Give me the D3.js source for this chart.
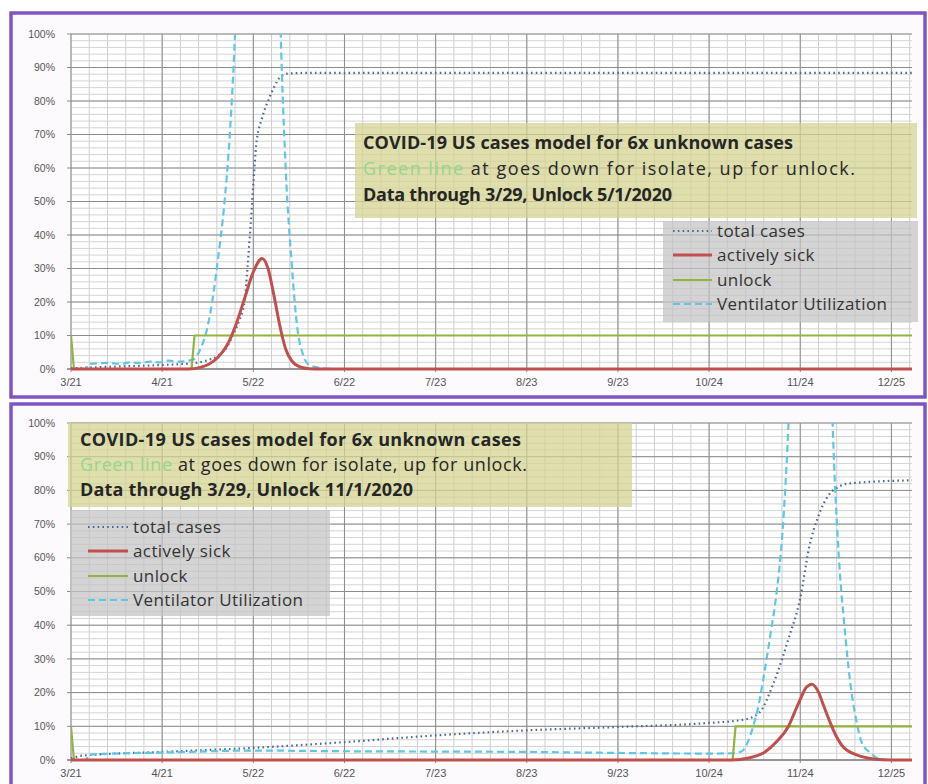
<html>
<head>
<meta charset="utf-8">
<title>COVID-19 US cases model</title>
<style>
    body { margin: 0; background: #fff; }
    svg { display: block; }
    .tick-label { font-family: "Liberation Sans", Arial, sans-serif; font-size: 10.5px; fill: #555; }
    .note { font-family: "Open Sans", sans-serif; fill: #262626; font-size: 18px; }
    .legend-text { font-family: "Open Sans", sans-serif; font-size: 17px; letter-spacing: 0.4px; fill: #333; }
</style>
</head>
<body>
<script src="https://cdn.jsdelivr.net/npm/d3@7"></script>
<script>
// axis labels
var xTickLabels = ["3/21", "4/21", "5/22", "6/22", "7/23", "8/23", "9/23", "10/24", "11/24", "12/25"];
var yTicks = [0, 10, 20, 30, 40, 50, 60, 70, 80, 90, 100];
var seriesNames = ["total cases", "actively sick", "unlock", "Ventilator Utilization"];

// --- unlock 5/1/2020 (top chart), values in % ---
var totalCasesMay = [["2020-03-21", 0.2], ["2020-04-01", 0.6], ["2020-04-21", 1.2], ["2020-05-02", 1.8],
    ["2020-05-06", 2.5], ["2020-05-10", 4], ["2020-05-13", 6.5], ["2020-05-15", 10], ["2020-05-17", 14],
    ["2020-05-19", 20], ["2020-05-20", 30], ["2020-05-21", 42], ["2020-05-22", 55], ["2020-05-23", 67],
    ["2020-05-25", 75], ["2020-05-27", 80], ["2020-05-29", 84], ["2020-05-31", 87], ["2020-06-03", 88.2],
    ["2020-06-10", 88.4], ["2021-01-01", 88.4]];
var activelySickMay = [["2020-03-21", 0], ["2020-04-30", 0], ["2020-05-04", 0.5], ["2020-05-07", 1.5],
    ["2020-05-10", 3.5], ["2020-05-13", 7], ["2020-05-16", 13], ["2020-05-19", 21], ["2020-05-22", 29],
    ["2020-05-25", 33], ["2020-05-27", 30], ["2020-05-29", 22], ["2020-05-31", 13], ["2020-06-02", 6],
    ["2020-06-04", 2.5], ["2020-06-07", 0.6], ["2020-06-10", 0.1], ["2020-06-14", 0], ["2021-01-01", 0]];
var unlockMay = [["2020-03-21", 10], ["2020-03-22", 0], ["2020-05-01", 0], ["2020-05-02", 10], ["2021-01-01", 10]];
var ventilatorMay = [["2020-03-21", 0], ["2020-03-26", 0], ["2020-03-27", 1.5], ["2020-04-03", 1.8],
    ["2020-04-07", 1.5], ["2020-04-10", 2], ["2020-04-13", 1.8], ["2020-04-17", 2.2], ["2020-04-20", 2],
    ["2020-04-23", 2.5], ["2020-04-27", 2.2], ["2020-04-30", 2.5], ["2020-05-02", 3], ["2020-05-04", 6],
    ["2020-05-06", 11], ["2020-05-08", 20], ["2020-05-10", 33], ["2020-05-12", 48], ["2020-05-14", 70],
    ["2020-05-16", 105], ["2020-05-20", 250], ["2020-05-24", 400], ["2020-05-28", 250], ["2020-05-31", 110],
    ["2020-06-02", 60], ["2020-06-04", 32], ["2020-06-06", 12], ["2020-06-08", 4], ["2020-06-10", 1.2],
    ["2020-06-14", 0.3], ["2020-06-18", 0], ["2021-01-01", 0]];

// --- unlock 11/1/2020 (bottom chart), values in % ---
var totalCasesNov = [["2020-03-21", 0.5], ["2020-03-25", 1.3], ["2020-04-21", 2.4], ["2020-05-22", 3.6],
    ["2020-06-22", 5.3], ["2020-07-23", 7.3], ["2020-08-23", 8.8], ["2020-09-23", 9.8], ["2020-10-24", 11],
    ["2020-11-05", 12], ["2020-11-10", 14], ["2020-11-15", 23], ["2020-11-20", 36], ["2020-11-24", 48],
    ["2020-11-27", 63], ["2020-11-30", 72], ["2020-12-04", 79], ["2020-12-07", 81], ["2020-12-10", 82],
    ["2021-01-01", 83]];
var activelySickNov = [["2020-03-21", 0], ["2020-11-01", 0], ["2020-11-06", 0.5], ["2020-11-12", 2.4],
    ["2020-11-16", 5.5], ["2020-11-20", 10], ["2020-11-22", 14], ["2020-11-24", 18], ["2020-11-26", 21.5],
    ["2020-11-28", 22.5], ["2020-11-30", 20.5], ["2020-12-02", 16], ["2020-12-04", 11.5], ["2020-12-06", 7.5],
    ["2020-12-09", 3.5], ["2020-12-15", 1], ["2020-12-19", 0.3], ["2020-12-25", 0], ["2021-01-01", 0]];
var unlockNov = [["2020-03-21", 10], ["2020-03-22", 0], ["2020-11-01", 0], ["2020-11-02", 10], ["2021-01-01", 10]];
var ventilatorNov = [["2020-03-21", 0], ["2020-03-26", 0], ["2020-03-27", 1.5], ["2020-04-01", 1.8],
    ["2020-04-21", 2.2], ["2020-05-22", 2.8], ["2020-06-22", 2.6], ["2020-07-23", 2.5], ["2020-08-23", 2.4],
    ["2020-09-23", 2.1], ["2020-10-24", 1.9], ["2020-11-01", 2], ["2020-11-04", 2.5], ["2020-11-06", 5],
    ["2020-11-08", 10], ["2020-11-10", 17], ["2020-11-12", 27], ["2020-11-14", 38], ["2020-11-16", 50],
    ["2020-11-18", 68], ["2020-11-20", 100], ["2020-11-23", 180], ["2020-11-27", 300], ["2020-12-01", 250],
    ["2020-12-04", 130], ["2020-12-05", 100], ["2020-12-07", 62], ["2020-12-09", 40], ["2020-12-11", 23],
    ["2020-12-13", 12], ["2020-12-15", 5], ["2020-12-18", 2], ["2020-12-20", 0.6], ["2020-12-24", 0],
    ["2021-01-01", 0]];

var W = 928, H = 784;
var parseDay = d3.utcParse("%Y-%m-%d");
var parseTick = d3.utcParse("%m/%d/%Y");
var tickDates = xTickLabels.map(function (l) { return parseTick(l + "/2020"); });

var svg = d3.select("body").append("svg").attr("width", W).attr("height", H);

var x = d3.scaleUtc()
    .domain([parseDay("2020-03-21"), parseDay("2021-01-01")])
    .range([71, 912]);

// line styles for the four series
var styles = [
    { color: "#4e6896", width: 2.2, dash: "1.6,3.2", curve: d3.curveMonotoneX },
    { color: "#c0504d", width: 3, dash: null, curve: d3.curveMonotoneX },
    { color: "#93b33f", width: 2.2, dash: null, curve: d3.curveLinear },
    { color: "#5ec8e4", width: 2.2, dash: "7,4", curve: d3.curveMonotoneX }
];

function drawPanel(cfg) {
    var g = svg.append("g");

    // purple frame
    g.append("rect")
        .attr("x", cfg.frame[0]).attr("y", cfg.frame[1])
        .attr("width", cfg.frame[2]).attr("height", cfg.frame[3])
        .attr("fill", "#fdfafd")
        .attr("stroke", "#7e55c3").attr("stroke-width", 3.5);

    var y = d3.scaleLinear().domain([0, 100]).range([cfg.bottom, cfg.top]);

    g.append("rect").attr("x", 71).attr("y", cfg.top)
        .attr("width", 912 - 71).attr("height", cfg.bottom - cfg.top).attr("fill", "#fff");

    // minor grid
    var x0 = x.domain()[0].getTime();
    var minorX = d3.range(0, 286, 31 / 5).map(function (d) { return new Date(x0 + d * 864e5); });
    g.append("g").selectAll("line").data(minorX).join("line")
        .attr("x1", function (d) { return x(d); }).attr("x2", function (d) { return x(d); })
        .attr("y1", cfg.top).attr("y2", cfg.bottom)
        .attr("stroke", "#cfcfcf").attr("stroke-width", 1);
    g.append("g").selectAll("line").data(d3.range(0, 101, 2)).join("line")
        .attr("x1", 71).attr("x2", 912)
        .attr("y1", function (d) { return y(d); }).attr("y2", function (d) { return y(d); })
        .attr("stroke", "#d4d4d4").attr("stroke-width", 1);

    // major grid
    g.append("g").selectAll("line").data(tickDates).join("line")
        .attr("x1", function (d) { return x(d); }).attr("x2", function (d) { return x(d); })
        .attr("y1", cfg.top).attr("y2", cfg.bottom + 3)
        .attr("stroke", "#8c8c8c").attr("stroke-width", 1);
    g.append("g").selectAll("line").data(yTicks).join("line")
        .attr("x1", 67).attr("x2", 912)
        .attr("y1", function (d) { return y(d); }).attr("y2", function (d) { return y(d); })
        .attr("stroke", function (d) { return d === 0 ? "#7a7a7a" : "#8c8c8c"; })
        .attr("stroke-width", function (d) { return d === 0 ? 1.5 : 1; });

    // axes labels
    g.append("g").selectAll("text").data(yTicks).join("text")
        .attr("class", "tick-label")
        .attr("x", 55).attr("y", function (d) { return y(d); })
        .attr("dy", "0.35em").attr("text-anchor", "end")
        .text(function (d) { return d + "%"; });
    g.append("g").selectAll("text").data(tickDates).join("text")
        .attr("class", "tick-label")
        .style("font-size", "11px")
        .attr("x", function (d) { return x(d); }).attr("y", cfg.bottom + 13)
        .attr("dy", "0.35em").attr("text-anchor", "middle")
        .text(function (d, i) { return xTickLabels[i]; });

    // series, clipped to the plot box
    var clipId = "clip" + cfg.id;
    svg.append("clipPath").attr("id", clipId).append("rect")
        .attr("x", 71).attr("y", cfg.top).attr("width", 912 - 71).attr("height", cfg.bottom - cfg.top + 2);
    var lines = g.append("g").attr("clip-path", "url(#" + clipId + ")");
    var order = [0, 3, 2, 1];
    order.forEach(function (i) {
        var st = styles[i];
        var line = d3.line()
            .x(function (d) { return x(parseDay(d[0])); })
            .y(function (d) { return y(d[1]); })
            .curve(st.curve);
        lines.append("path")
            .datum(cfg.series[i])
            .attr("d", line)
            .attr("fill", "none")
            .attr("stroke", st.color)
            .attr("stroke-width", st.width)
            .attr("stroke-dasharray", st.dash)
            .attr("stroke-linejoin", "round");
    });

    // note box
    var nb = cfg.noteBox;
    var tx = nb[0] + cfg.notePad;
    g.append("rect").attr("x", nb[0]).attr("y", nb[1]).attr("width", nb[2]).attr("height", nb[3])
        .attr("fill", "rgb(212,212,146)").attr("fill-opacity", 0.75);
    g.append("text").attr("class", "note").attr("x", tx).attr("y", cfg.noteLines[0])
        .attr("dy", "0.35em").style("font-weight", "bold")
        .attr("textLength", cfg.noteWidths[0]).attr("lengthAdjust", "spacing")
        .text("COVID-19 US cases model for 6x unknown  cases");
    var t2 = g.append("text").attr("class", "note").attr("x", tx).attr("y", cfg.noteLines[1])
        .attr("dy", "0.35em")
        .attr("textLength", cfg.noteWidths[1]).attr("lengthAdjust", "spacing");
    t2.append("tspan").attr("fill", "#96d68c").text("Green line");
    t2.append("tspan").text(" at goes down for isolate, up for unlock.");
    g.append("text").attr("class", "note").attr("x", tx).attr("y", cfg.noteLines[2])
        .attr("dy", "0.35em").style("font-weight", "bold")
        .attr("textLength", cfg.noteWidths[2]).attr("lengthAdjust", "spacing")
        .text(cfg.dataLine);

    // legend
    var lb = cfg.legendBox;
    g.append("rect").attr("x", lb[0]).attr("y", lb[1]).attr("width", lb[2]).attr("height", lb[3])
        .attr("fill", "rgb(196,196,196)").attr("fill-opacity", 0.72);
    seriesNames.forEach(function (name, i) {
        var st = styles[i];
        var ly = cfg.legendRows[i];
        g.append("line")
            .attr("x1", cfg.legendSample[0]).attr("x2", cfg.legendSample[1])
            .attr("y1", ly).attr("y2", ly)
            .attr("stroke", st.color).attr("stroke-width", st.width)
            .attr("stroke-dasharray", st.dash);
        g.append("text").attr("class", "legend-text")
            .attr("x", cfg.legendSample[1] + 5).attr("y", ly).attr("dy", "0.35em")
            .text(name);
    });
}

drawPanel({
    id: "May",
    frame: [11, 13, 914, 384],
    top: 34, bottom: 369,
    series: [totalCasesMay, activelySickMay, unlockMay, ventilatorMay],
    noteBox: [355, 123, 562, 95], notePad: 8,
    noteLines: [143, 169, 195],
    noteWidths: [430, 492, 309],
    dataLine: "Data through 3/29, Unlock 5/1/2020",
    legendBox: [663, 221, 255, 101],
    legendRows: [231, 255, 280, 304],
    legendSample: [673, 712]
});

drawPanel({
    id: "Nov",
    frame: [11, 404, 914, 392],
    top: 423, bottom: 760,
    series: [totalCasesNov, activelySickNov, unlockNov, ventilatorNov],
    noteBox: [68, 423, 564, 84], notePad: 12,
    noteLines: [440, 465, 490],
    noteWidths: [441, 447, 333],
    dataLine: "Data through 3/29, Unlock 11/1/2020",
    legendBox: [70, 510, 260, 106],
    legendRows: [527, 551, 576, 600],
    legendSample: [88, 128]
});
</script>
</body>
</html>
